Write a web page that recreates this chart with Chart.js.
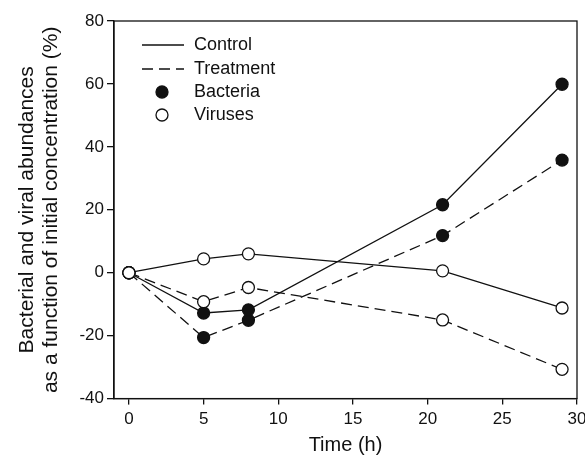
<!DOCTYPE html>
<html>
<head>
<meta charset="utf-8">
<script src="https://cdn.jsdelivr.net/npm/chart.js@4.4.0/dist/chart.umd.min.js"></script>
<style>
  html, body { margin: 0; padding: 0; background: #fff; }
  #wrap { width: 585px; height: 455px; }
</style>
</head>
<body>
<div id="wrap"><canvas id="chart"></canvas></div>
<script>
// data
const hours = [0, 5, 8, 21, 29];
const bacteriaControl = [0, -12.8, -11.8, 21.6, 59.9];
const bacteriaTreatment = [0, -20.6, -15.1, 11.8, 35.8];
const virusControl = [0, 4.4, 6.0, 0.6, -11.2];
const virusTreatment = [0, -9.2, -4.7, -15.0, -30.7];

const xTicks = [0, 5, 10, 15, 20, 25, 30];
const yTicks = [-40, -20, 0, 20, 40, 60, 80];

const legendItems = [
  { label: 'Control', kind: 'solid' },
  { label: 'Treatment', kind: 'dashed' },
  { label: 'Bacteria', kind: 'filled' },
  { label: 'Viruses', kind: 'open' }
];

const FONT = '"Liberation Sans", Arial, sans-serif';
const INK = '#111';
const DASH = [11, 6];

function pts(ys) { return hours.map((h, i) => ({ x: h, y: ys[i] })); }

function series(ys, dashed, filled) {
  return {
    data: pts(ys),
    showLine: true,
    borderColor: INK,
    borderWidth: 1.3,
    borderDash: dashed ? DASH : [],
    pointRadius: 6,
    pointHoverRadius: 6,
    pointBorderWidth: 1.3,
    pointBorderColor: INK,
    pointBackgroundColor: filled ? INK : '#fff',
    tension: 0
  };
}

// box round the plot + legend inside it
const framePlugin = {
  id: 'frame',
  afterDraw(chart) {
    const { ctx, chartArea: a } = chart;
    ctx.save();
    ctx.strokeStyle = INK;
    ctx.lineWidth = 1.3;
    ctx.strokeRect(a.left, a.top, a.right - a.left, a.bottom - a.top);

    ctx.font = '18px ' + FONT;
    ctx.textBaseline = 'middle';
    ctx.fillStyle = INK;
    const rows = [24, 48, 71, 94];
    legendItems.forEach((it, i) => {
      const y = a.top + rows[i];
      const x0 = a.left + 28, x1 = a.left + 70;
      if (it.kind === 'solid' || it.kind === 'dashed') {
        ctx.setLineDash(it.kind === 'dashed' ? DASH : []);
        ctx.beginPath();
        ctx.moveTo(x0, y);
        ctx.lineTo(x1, y);
        ctx.stroke();
        ctx.setLineDash([]);
      } else {
        ctx.beginPath();
        ctx.arc(a.left + 48, y, 6, 0, Math.PI * 2);
        ctx.fillStyle = it.kind === 'filled' ? INK : '#fff';
        ctx.fill();
        ctx.stroke();
        ctx.fillStyle = INK;
      }
      ctx.fillText(it.label, a.left + 80, y);
    });
    ctx.restore();
  }
};

const chart = new Chart(document.getElementById('chart'), {
  type: 'scatter',
  data: {
    datasets: [
      series(virusControl, false, false),
      series(virusTreatment, true, false),
      series(bacteriaControl, false, true),
      series(bacteriaTreatment, true, true)
    ]
  },
  options: {
    responsive: true,
    maintainAspectRatio: false,
    animation: false,
    layout: { padding: { left: 0, right: 8, top: 21, bottom: 0 } },
    plugins: { legend: { display: false }, tooltip: { enabled: false } },
    scales: {
      x: {
        type: 'linear', min: -1, max: 30,
        afterBuildTicks: s => { s.ticks = xTicks.map(v => ({ value: v })); },
        afterFit: s => { s.paddingRight = 0; s.paddingLeft = 0; },
        grid: { display: true, drawOnChartArea: false, drawTicks: true, tickLength: 6, color: INK, lineWidth: 1.3 },
        border: { display: true, color: INK, width: 1.3 },
        ticks: { color: INK, font: { family: FONT, size: 17 }, padding: 5, maxRotation: 0 },
        title: { display: true, text: 'Time (h)', color: INK, font: { family: FONT, size: 20, lineHeight: 1.0 }, padding: { top: 0, bottom: 0 } }
      },
      y: {
        type: 'linear', min: -40, max: 80,
        afterBuildTicks: s => { s.ticks = yTicks.map(v => ({ value: v })); },
        afterFit: s => { s.width = 114; },
        grid: { display: true, drawOnChartArea: false, drawTicks: true, tickLength: 7, color: INK, lineWidth: 1.3 },
        border: { display: true, color: INK, width: 1.3 },
        ticks: { color: INK, font: { family: FONT, size: 17 }, padding: 3 },
        title: {
          display: true,
          text: ['Bacterial and viral abundances', 'as a function of initial concentration (%)'],
          color: INK, font: { family: FONT, size: 21, lineHeight: 1.15 }, padding: { top: 15, bottom: 0 }
        }
      }
    }
  },
  plugins: [framePlugin]
});
</script>
</body>
</html>
